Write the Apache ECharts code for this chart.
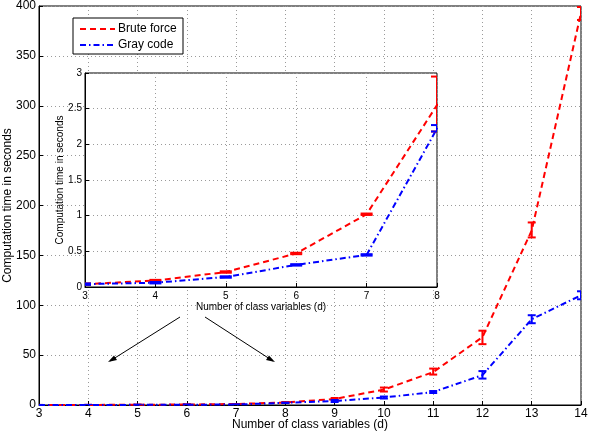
<!DOCTYPE html>
<html>
<head>
<meta charset="utf-8">
<script src="https://cdn.jsdelivr.net/npm/echarts@6/dist/echarts.min.js"></script>
<style>
  html, body { margin: 0; padding: 0; background: #fff; }
  #chart { width: 595px; height: 433px; }
</style>
</head>
<body>
<div id="chart"></div>
<script>
// number of class variables
const dims = [3, 4, 5, 6, 7, 8, 9, 10, 11, 12, 13, 14];

// brute force: mean and error range (seconds)
const bruteMean = [0.04, 0.09, 0.21, 0.47, 1.02, 2.55, 6, 15.5, 33, 68, 175, 393];
const bruteLow  = [0.03, 0.08, 0.20, 0.46, 1.01, 2.18, 5, 13.5, 30.5, 61, 168, 386];
const bruteHigh = [0.05, 0.10, 0.22, 0.48, 1.03, 2.95, 7, 17.5, 36.5, 74.5, 183, 399];

// gray code: mean and error range (seconds)
const grayMean = [0.04, 0.06, 0.14, 0.31, 0.45, 2.22, 4, 7.5, 13, 30, 86, 110];
const grayLow  = [0.03, 0.05, 0.13, 0.30, 0.44, 2.18, 3, 6.5, 12, 26.5, 82, 106];
const grayHigh = [0.05, 0.07, 0.15, 0.32, 0.46, 2.27, 5, 8.5, 14, 34, 90, 114];

const mainYTicks = [0, 50, 100, 150, 200, 250, 300, 350, 400];
const insetYTicks = [0, 0.5, 1, 1.5, 2, 2.5, 3];

const RED = '#ff0000';
const BLUE = '#0000ff';
const FONT = '"Liberation Sans", Arial, sans-serif';
const gridDots = { show: true, lineStyle: { color: '#9a9a9a', type: [1, 3], width: 1 } };

const chart = echarts.init(document.getElementById('chart'));

const pairs = (ys) => dims.map((d, i) => [d, ys[i]]);
const errData = (lo, hi) => dims.map((d, i) => [d, lo[i], hi[i]]);

const errBar = (color, cap) => (params, api) => {
  const x = api.value(0);
  const lo = api.coord([x, api.value(1)]);
  const hi = api.coord([x, api.value(2)]);
  const style = { stroke: color, lineWidth: 2 };
  return {
    type: 'group',
    children: [
      { type: 'line', shape: { x1: lo[0], y1: lo[1], x2: hi[0], y2: hi[1] }, style },
      { type: 'line', shape: { x1: lo[0] - cap, y1: lo[1], x2: lo[0] + cap, y2: lo[1] }, style },
      { type: 'line', shape: { x1: hi[0] - cap, y1: hi[1], x2: hi[0] + cap, y2: hi[1] }, style }
    ]
  };
};

const axisCommon = {
  axisLine: { show: true, lineStyle: { color: '#000', width: 1 } },
  axisTick: { show: true, inside: true, length: 4, lineStyle: { color: '#000' } },
  splitLine: gridDots,
  nameLocation: 'middle',
  nameMoveOverlap: false,
  nameTextStyle: { color: '#000', fontFamily: FONT }
};

const lineSeries = (name, ys, color, dash, xi, yi) => ({
  name, type: 'line', data: pairs(ys),
  xAxisIndex: xi, yAxisIndex: yi,
  showSymbol: false, clip: true, z: 3,
  lineStyle: { color, width: 2, type: dash }
});

const errSeries = (lo, hi, color, cap, xi, yi) => ({
  type: 'custom', data: errData(lo, hi),
  xAxisIndex: xi, yAxisIndex: yi, clip: true, z: 4,
  renderItem: errBar(color, cap),
  encode: { x: 0, y: [1, 2] }
});

const option = {
  animation: false,
  backgroundColor: '#fff',
  grid: [
    { left: 39, right: 14, top: 6, bottom: 28, outerBoundsMode: 'none', containLabel: false, show: true, borderColor: '#000', borderWidth: 1, backgroundColor: 'transparent' },
    { left: 85, right: 158, top: 73, bottom: 146, outerBoundsMode: 'none', containLabel: false, show: true, borderColor: '#000', borderWidth: 1, backgroundColor: '#fff', z: 5 }
  ],
  xAxis: [
    Object.assign({}, axisCommon, {
      type: 'value', gridIndex: 0, min: 3, max: 14, interval: 1,
      name: 'Number of class variables (d)', nameGap: 14,
      nameTextStyle: { color: '#000', fontFamily: FONT, fontSize: 12 },
      axisLabel: { color: '#000', fontFamily: FONT, fontSize: 12, margin: 3 }
    }),
    Object.assign({}, axisCommon, {
      type: 'value', gridIndex: 1, min: 3, max: 8, interval: 1, z: 6,
      name: 'Number of class variables (d)', nameGap: 15,
      nameTextStyle: { color: '#000', fontFamily: FONT, fontSize: 10 },
      axisLabel: { color: '#000', fontFamily: FONT, fontSize: 10, margin: 4 }
    })
  ],
  yAxis: [
    Object.assign({}, axisCommon, {
      type: 'value', gridIndex: 0, min: mainYTicks[0], max: mainYTicks[mainYTicks.length - 1], interval: 50,
      name: 'Computation time in seconds', nameGap: 25,
      nameTextStyle: { color: '#000', fontFamily: FONT, fontSize: 12 },
      axisLabel: { color: '#000', fontFamily: FONT, fontSize: 12, margin: 3 }
    }),
    Object.assign({}, axisCommon, {
      type: 'value', gridIndex: 1, min: insetYTicks[0], max: insetYTicks[insetYTicks.length - 1], interval: 0.5, z: 6,
      name: 'Computation time in seconds', nameGap: 20,
      nameTextStyle: { color: '#000', fontFamily: FONT, fontSize: 10 },
      axisLabel: { color: '#000', fontFamily: FONT, fontSize: 10, margin: 3 }
    })
  ],
  series: [
    lineSeries('Brute force', bruteMean, RED, [6, 4], 0, 0),
    lineSeries('Gray code', grayMean, BLUE, [6, 3, 1.5, 3], 0, 0),
    errSeries(bruteLow, bruteHigh, RED, 4, 0, 0),
    errSeries(grayLow, grayHigh, BLUE, 4, 0, 0),
    Object.assign(lineSeries('Brute force', bruteMean, RED, [6, 4], 1, 1), { z: 7 }),
    Object.assign(lineSeries('Gray code', grayMean, BLUE, [6, 3, 1.5, 3], 1, 1), { z: 7 }),
    Object.assign(errSeries(bruteLow, bruteHigh, RED, 6, 1, 1), { z: 8 }),
    Object.assign(errSeries(grayLow, grayHigh, BLUE, 6, 1, 1), { z: 8 })
  ],
  graphic: [
    // legend box
    { type: 'rect', shape: { x: 73, y: 18, width: 110, height: 36 }, style: { fill: '#fff', stroke: '#000', lineWidth: 1 }, z: 20 },
    { type: 'line', shape: { x1: 80, y1: 29, x2: 115, y2: 29 }, style: { stroke: RED, lineWidth: 2, lineDash: [6, 4] }, z: 21 },
    { type: 'line', shape: { x1: 80, y1: 45, x2: 115, y2: 45 }, style: { stroke: BLUE, lineWidth: 2, lineDash: [6, 3, 1.5, 3] }, z: 21 },
    { type: 'text', x: 118, y: 29, style: { text: 'Brute force', fill: '#000', font: '12px ' + FONT, textVerticalAlign: 'middle' }, z: 21 },
    { type: 'text', x: 118, y: 45, style: { text: 'Gray code', fill: '#000', font: '12px ' + FONT, textVerticalAlign: 'middle' }, z: 21 },
    // arrows pointing from the inset to the zoomed region
    { type: 'line', shape: { x1: 180, y1: 317, x2: 110, y2: 361 }, style: { stroke: '#000', lineWidth: 1 }, z: 20 },
    { type: 'polygon', shape: { points: [[108, 362], [114, 355.5], [117, 360]] }, style: { fill: '#000' }, z: 20 },
    { type: 'line', shape: { x1: 205, y1: 317, x2: 273, y2: 361 }, style: { stroke: '#000', lineWidth: 1 }, z: 20 },
    { type: 'polygon', shape: { points: [[275, 362], [266, 360], [269, 355.5]] }, style: { fill: '#000' }, z: 20 }
  ]
};

chart.setOption(option);
</script>
</body>
</html>
